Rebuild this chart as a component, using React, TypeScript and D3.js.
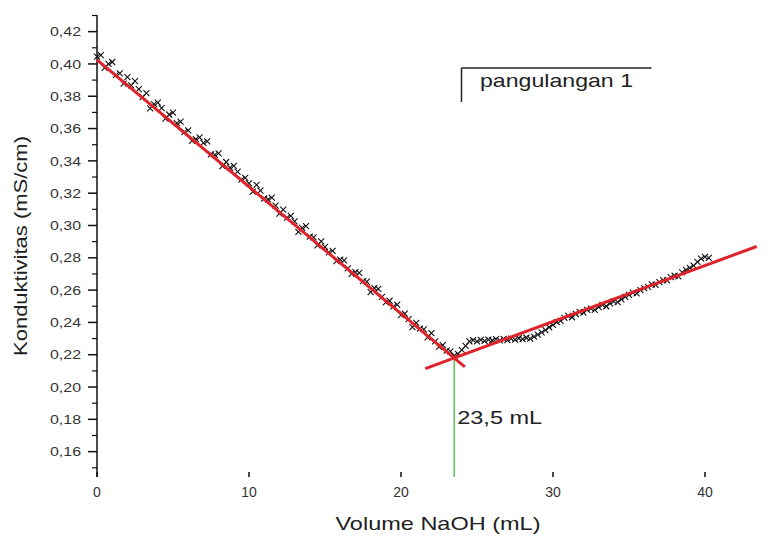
import React from "react";
import * as d3 from "d3";

const W = 773;
const H = 541;

// Axis ticks
const xTicks = [0, 10, 20, 30, 40];
const xTickLabels = ["0", "10", "20", "30", "40"];
const yTicks = [0.16, 0.18, 0.2, 0.22, 0.24, 0.26, 0.28, 0.3, 0.32, 0.34, 0.36, 0.38, 0.4, 0.42];
const yTickLabels = ["0,16", "0,18", "0,20", "0,22", "0,24", "0,26", "0,28", "0,30", "0,32", "0,34", "0,36", "0,38", "0,40", "0,42"];
const yMinorTicks = [0.15, 0.17, 0.19, 0.21, 0.23, 0.25, 0.27, 0.29, 0.31, 0.33, 0.35, 0.37, 0.39, 0.41, 0.43];

// Titration readings, sampled every 0.25 mL
const sampleStep = 0.25;
const descStart = 0;
const descConductivity = [
  0.4045, 0.4055, 0.3976, 0.4001, 0.4012, 0.3932, 0.3942, 0.3878, 0.3918, 0.3868,
  0.3894, 0.3844, 0.3795, 0.382, 0.3725, 0.3751, 0.3761, 0.3726, 0.3662, 0.3687,
  0.3698, 0.3633, 0.3643, 0.3579, 0.3589, 0.3524, 0.3535, 0.3545, 0.3511, 0.3521,
  0.3441, 0.3437, 0.3447, 0.3367, 0.3393, 0.3358, 0.3369, 0.3334, 0.3284, 0.3295,
  0.326, 0.321, 0.3251, 0.3216, 0.3167, 0.3162, 0.3172, 0.3123, 0.3073, 0.3098,
  0.3049, 0.3059, 0.3025, 0.296, 0.2985, 0.2996, 0.2931, 0.2926, 0.2877, 0.2902,
  0.2868, 0.2833, 0.2843, 0.2779, 0.2789, 0.2784, 0.2735, 0.27, 0.2711, 0.2706,
  0.2656, 0.2652, 0.2587, 0.2612, 0.2608, 0.2558, 0.2524, 0.2534, 0.2499, 0.251,
  0.2445, 0.2455, 0.2421, 0.2371, 0.2397, 0.2362, 0.2357, 0.2308, 0.2333, 0.2283,
  0.2249, 0.2259, 0.2225, 0.222,
];
const riseStart = 23.5;
const riseConductivity = [
  0.2195, 0.2205, 0.223, 0.2255, 0.2282, 0.229, 0.2283, 0.2292, 0.2286, 0.2294,
  0.2288, 0.2296, 0.2289, 0.2298, 0.2291, 0.23, 0.2293, 0.2302, 0.2296, 0.2305,
  0.23, 0.2312, 0.2325, 0.2338, 0.2352, 0.237, 0.2385, 0.2402, 0.241, 0.2428,
  0.244, 0.2432, 0.2452, 0.2465, 0.246, 0.2478, 0.2485, 0.2478, 0.2495, 0.2508,
  0.25, 0.2518, 0.253, 0.2525, 0.2542, 0.2558, 0.257, 0.2585, 0.258, 0.26,
  0.2612, 0.262, 0.2635, 0.2632, 0.265, 0.2662, 0.266, 0.268, 0.269, 0.2685,
  0.271, 0.2725, 0.2738, 0.2752, 0.2775, 0.2795, 0.2805, 0.28,
];

// Linear fits of the two branches
const fitDescVolume = [0, 24.2];
const fitDescConductivity = [0.4025, 0.2125];
const fitRiseVolume = [21.6, 43.4];
const fitRiseConductivity = [0.2114, 0.287];

// Equivalence point
const endPointVolume = 23.5;
const endPointConductivity = 0.218;
const endPointLabel = "23,5 mL";
const seriesName = "pangulangan 1";

const FONT = "'Liberation Sans', Arial, sans-serif";

export default function App() {
  const x = d3.scaleLinear().domain([0, 45]).range([97, 781]);
  const y = d3.scaleLinear().domain([0.1443, 0.4303]).range([477, 15]);

  const points: [number, number][] = [
    ...descConductivity.map((v, i) => [descStart + i * sampleStep, v] as [number, number]),
    ...riseConductivity.map((v, i) => [riseStart + i * sampleStep, v] as [number, number]),
  ];

  const line = d3
    .line<[number, number]>()
    .x((d) => x(d[0]))
    .y((d) => y(d[1]));

  const fitDesc = fitDescVolume.map((v, i) => [v, fitDescConductivity[i]] as [number, number]);
  const fitRise = fitRiseVolume.map((v, i) => [v, fitRiseConductivity[i]] as [number, number]);

  const cross = "M-3,-3L3,3M-3,3L3,-3";
  const xAxisY = y(0.1443);

  return (
    <svg
      width={W}
      height={H}
      style={{ position: "absolute", left: 0, top: 0, background: "#fff" }}
      fontFamily={FONT}
    >
      <rect width={W} height={H} fill="#fff" />

      {/* y axis */}
      <line x1={x(0)} x2={x(0)} y1={y(0.4303)} y2={xAxisY} stroke="#111" strokeWidth={1.5} />
      {yTicks.map((t, i) => (
        <g key={"yt" + i}>
          <line x1={x(0) - 9} x2={x(0)} y1={y(t)} y2={y(t)} stroke="#111" strokeWidth={1.5} />
          <text
            x={81}
            y={y(t)}
            dy="0.36em"
            textAnchor="end"
            fontSize={13}
            fill="#333"
            textLength={31}
            lengthAdjust="spacingAndGlyphs"
          >
            {yTickLabels[i]}
          </text>
        </g>
      ))}
      {yMinorTicks.map((t, i) => (
        <line key={"ym" + i} x1={x(0) - 5} x2={x(0)} y1={y(t)} y2={y(t)} stroke="#111" strokeWidth={1.2} />
      ))}

      {/* x ticks */}
      {xTicks.map((t, i) => (
        <g key={"xt" + i}>
          <line x1={x(t)} x2={x(t)} y1={xAxisY - 5} y2={xAxisY} stroke="#111" strokeWidth={1.5} />
          <text x={x(t)} y={497} textAnchor="middle" fontSize={14} fill="#333">
            {xTickLabels[i]}
          </text>
        </g>
      ))}

      {/* axis titles */}
      <text
        x={438}
        y={530}
        textAnchor="middle"
        fontSize={19}
        fill="#222"
        textLength={205}
        lengthAdjust="spacingAndGlyphs"
      >
        Volume NaOH (mL)
      </text>
      <text
        transform={`translate(27,${(y(0.4303) + xAxisY) / 2}) rotate(-90)`}
        textAnchor="middle"
        fontSize={19}
        fill="#222"
        textLength={220}
        lengthAdjust="spacingAndGlyphs"
      >
        Konduktivitas (mS/cm)
      </text>

      {/* equivalence marker */}
      <line
        x1={x(endPointVolume)}
        x2={x(endPointVolume)}
        y1={y(endPointConductivity)}
        y2={xAxisY}
        stroke="#5cc85c"
        strokeWidth={1.5}
      />
      <text
        x={x(endPointVolume) + 3}
        y={424}
        fontSize={19}
        fill="#222"
        textLength={85}
        lengthAdjust="spacingAndGlyphs"
      >
        {endPointLabel}
      </text>

      {/* measured points */}
      {points.map((p, i) => (
        <path
          key={"p" + i}
          d={cross}
          transform={`translate(${x(p[0])},${y(p[1])})`}
          stroke="#111"
          strokeWidth={1.1}
          fill="none"
        />
      ))}

      {/* fitted lines */}
      <path d={line(fitDesc) || ""} stroke="#e0232b" strokeWidth={3} fill="none" />
      <path d={line(fitRise) || ""} stroke="#e0232b" strokeWidth={3} fill="none" />

      {/* legend */}
      <line x1={461.5} x2={651.5} y1={68} y2={68} stroke="#222" strokeWidth={1.5} />
      <line x1={461.5} x2={461.5} y1={68} y2={102} stroke="#222" strokeWidth={1.5} />
      <text x={480} y={87} fontSize={19} fill="#222" textLength={153} lengthAdjust="spacingAndGlyphs">
        {seriesName}
      </text>
    </svg>
  );
}
